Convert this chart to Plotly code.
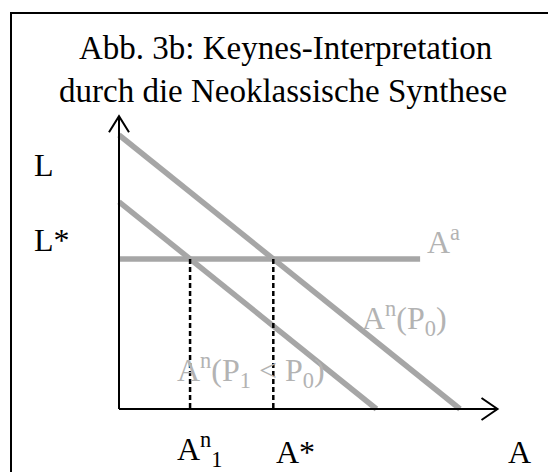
import plotly.graph_objects as go

# ---- data (model values, in axis units) ----
An_P0_intercepts = [10.0, 8.0]      # [A-intercept, L-intercept] of A^n(P0)
An_P1_intercepts = [7.55, 6.05]     # [A-intercept, L-intercept] of A^n(P1<P0)
L_star = 4.38                       # level of horizontal A^a line
Aa_end = 8.83                       # A^a drawn from A=0 to here
axis_max = [11.1, 8.55]             # arrow tips of A-axis and L-axis

title_lines = ["Abb. 3b: Keynes-Interpretation", "durch die Neoklassische Synthese"]

# intersections (A^n with A^a)
A_star = An_P0_intercepts[0] * (1 - L_star / An_P0_intercepts[1])
A_n1 = An_P1_intercepts[0] * (1 - L_star / An_P1_intercepts[1])

W, H = 548, 472
# axis geometry: A=0 at px 119, L=0 at px 409 (from top)
px_per_x = 34.1
px_per_y = 34.25
x_range = [-119 / px_per_x, (W - 119) / px_per_x]
y_range = [-(H - 409) / px_per_y, 409 / px_per_y]

GRAY = "#a6a6a6"
TXT_GRAY = "#b3b3b3"
FONT = "Liberation Serif"

fig = go.Figure()

def line(xs, ys, color, width, dash="solid"):
    fig.add_trace(go.Scatter(x=xs, y=ys, mode="lines",
                             line=dict(color=color, width=width, dash=dash),
                             hoverinfo="skip", showlegend=False))

# gray curves
line([0, An_P0_intercepts[0]], [An_P0_intercepts[1], 0], GRAY, 5.5)
line([0, An_P1_intercepts[0]], [An_P1_intercepts[1], 0], GRAY, 5.5)
line([0, Aa_end], [L_star, L_star], GRAY, 5.5)

# dashed verticals
line([A_n1, A_n1], [L_star, 0], "black", 2.5, "5px,3px")
line([A_star, A_star], [L_star, 0], "black", 2.5, "5px,3px")

# axes
line([0, axis_max[0]], [0, 0], "black", 2)
line([0, 0], [0, axis_max[1]], "black", 2)
# arrowheads (open chevrons)
ax_len_x, ax_half_y = 16 / px_per_x, 11 / px_per_y
line([axis_max[0] - ax_len_x, axis_max[0], axis_max[0] - ax_len_x],
     [ax_half_y, 0, -ax_half_y], "black", 2)
ay_len_y, ay_half_x = 16 / px_per_y, 10 / px_per_x
line([-ay_half_x, 0, ay_half_x],
     [axis_max[1] - ay_len_y, axis_max[1], axis_max[1] - ay_len_y], "black", 2)

def px(x):
    return x / W

def py(y):
    return 1 - y / H

def label(text, x, y, size=32, color="black", xanchor="left", yanchor="middle"):
    fig.add_annotation(text=text, x=px(x), y=py(y), xref="paper", yref="paper",
                       showarrow=False, xanchor=xanchor, yanchor=yanchor,
                       font=dict(family=FONT, size=size, color=color))

# title
label(title_lines[0], 285, 48, size=33, xanchor="center")
label(title_lines[1], 283, 91, size=33, xanchor="center")

# axis labels
label("L", 32, 165)
label("L*", 32, 240)
label("A<sup>n</sup><sub>1</sub>", 175, 449)
label("A*", 274, 452)
label("A", 506, 452)

# curve labels
label("A<sup>a</sup>", 425, 240, color=TXT_GRAY)
label("A<sup>n</sup>(P<sub>0</sub>)", 360, 318, color=TXT_GRAY)
label("A<sup>n</sup>(P<sub>1</sub> &lt; P<sub>0</sub>)", 175, 370, color=TXT_GRAY)

# border box (extends past right/bottom edges)
fig.add_shape(type="rect", xref="paper", yref="paper",
              x0=px(11), y0=py(H + 20), x1=px(W + 12), y1=py(13),
              line=dict(color="black", width=2))

fig.update_layout(
    width=W, height=H,
    margin=dict(l=0, r=0, t=0, b=0),
    paper_bgcolor="white", plot_bgcolor="white",
    xaxis=dict(range=x_range, visible=False, fixedrange=True),
    yaxis=dict(range=y_range, visible=False, fixedrange=True),
    showlegend=False,
)

fig.write_html("out.html", config={"displayModeBar": False},
               post_script="document.body.style.margin='0px';")
